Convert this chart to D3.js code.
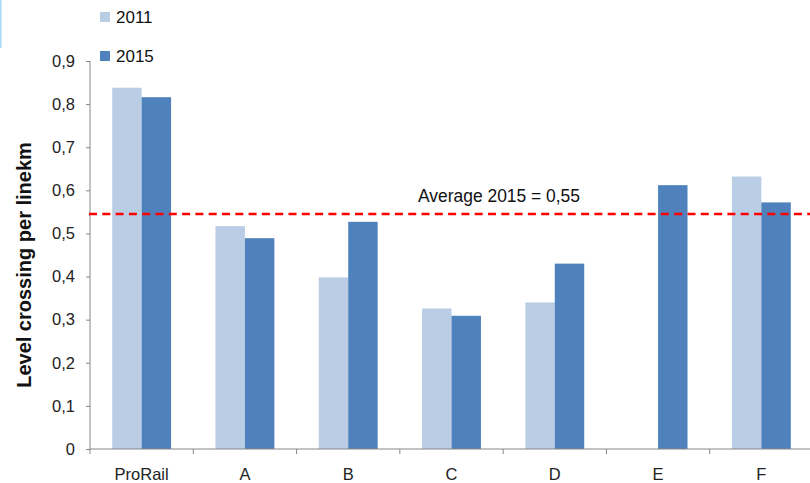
<!DOCTYPE html>
<html><head><meta charset="utf-8">
<script src="https://cdn.jsdelivr.net/npm/d3@7"></script>
<style>body{margin:0;background:#fff}svg{display:block}</style>
</head><body>
<svg id="c" width="810" height="483"></svg>
<script>
const categories = ["ProRail","A","B","C","D","E","F"];
const series = ["2011","2015"];
const values2011 = [0.838,0.517,0.398,0.326,0.340,null,0.632];
const values2015 = [0.816,0.489,0.527,0.309,0.430,0.612,0.572];
const yTicks = [0,0.1,0.2,0.3,0.4,0.5,0.6,0.7,0.8,0.9];
const averageValue = 0.545;
const averageLabel = "Average 2015 = 0,55";
const yTitle = "Level crossing per linekm";
const colors = ["#b9cde5","#4f81bd"];

(function(){
const svg = d3.select("#c");
const mLeft = 90, mRight = 813, mTop = 61, mBottom = 449;
const y = d3.scaleLinear().domain([0,0.9]).range([mBottom, mTop]);
const xCat = d3.scaleBand().domain(categories).range([mLeft,mRight]).padding(0);
const x0 = d3.scaleBand().domain(categories).range([mLeft,mRight]).paddingInner(0.43).paddingOuter(0.215);
const x1 = d3.scaleBand().domain(series).range([0,x0.bandwidth()]);

svg.append("rect").attr("x",0).attr("y",0).attr("width",1.5).attr("height",48).attr("fill","#a6d9f7");

const data = [values2011, values2015];
series.forEach((s,si)=>{
  svg.append("g").selectAll("rect").data(categories.map((c,i)=>({c,v:data[si][i]})).filter(d=>d.v!=null))
    .join("rect")
    .attr("x",d=>x0(d.c)+x1(s))
    .attr("width",x1.bandwidth())
    .attr("y",d=>y(d.v))
    .attr("height",d=>y(0)-y(d.v))
    .attr("fill",colors[si]);
});

const yAxis = d3.axisLeft(y).tickValues(yTicks).tickSize(4).tickPadding(11)
  .tickFormat(d=>d===0?"0":d3.format(".1f")(d).replace(".",","));
const gy = svg.append("g").attr("transform",`translate(${mLeft},0)`).call(yAxis);
gy.select(".domain").attr("stroke","#868686").attr("d",`M0,${mTop}V${mBottom}`);
gy.selectAll(".tick line").attr("stroke","#868686");
gy.selectAll("text").attr("font-family","Liberation Sans, Arial, sans-serif").attr("font-size",16.5).attr("fill","#222");

const gx = svg.append("g").attr("transform",`translate(0,${mBottom})`);
gx.append("line").attr("x1",mLeft).attr("x2",mRight).attr("stroke","#868686");
gx.selectAll("line.tk").data(categories.concat(["_end"])).join("line").attr("class","tk")
  .attr("x1",(d,i)=>mLeft+i*xCat.step()).attr("x2",(d,i)=>mLeft+i*xCat.step())
  .attr("y1",0).attr("y2",5).attr("stroke","#868686");
const xAxis = d3.axisBottom(xCat).tickSize(0).tickPadding(19);
const gxl = svg.append("g").attr("transform",`translate(0,${mBottom})`).call(xAxis);
gxl.select(".domain").remove();
gxl.selectAll("text").attr("font-family","Liberation Sans, Arial, sans-serif").attr("font-size",16.5).attr("fill","#222");

svg.append("line").attr("x1",mLeft-1).attr("x2",810).attr("y1",y(averageValue)).attr("y2",y(averageValue))
  .attr("stroke","#ff0000").attr("stroke-width",2.5).attr("stroke-dasharray","8,5.3");
svg.append("text").attr("x",418).attr("y",202).text(averageLabel)
  .attr("font-family","Liberation Sans, Arial, sans-serif").attr("font-size",17.5).attr("fill","#111")
  .attr("textLength",162).attr("lengthAdjust","spacingAndGlyphs");

svg.append("text").attr("transform","translate(31,265) rotate(-90)").attr("text-anchor","middle")
  .text(yTitle).attr("font-family","Liberation Sans, Arial, sans-serif").attr("font-weight","bold")
  .attr("font-size",20).attr("fill","#111");

const lg = svg.append("g");
series.forEach((s,i)=>{
  const yy = 12 + i*39;
  lg.append("rect").attr("x",100).attr("y",yy).attr("width",10).attr("height",10).attr("fill",colors[i]);
  lg.append("text").attr("x",116).attr("y",yy+11).text(s)
    .attr("font-family","Liberation Sans, Arial, sans-serif").attr("font-size",17).attr("fill","#111");
});
})();
</script>
</body></html>
